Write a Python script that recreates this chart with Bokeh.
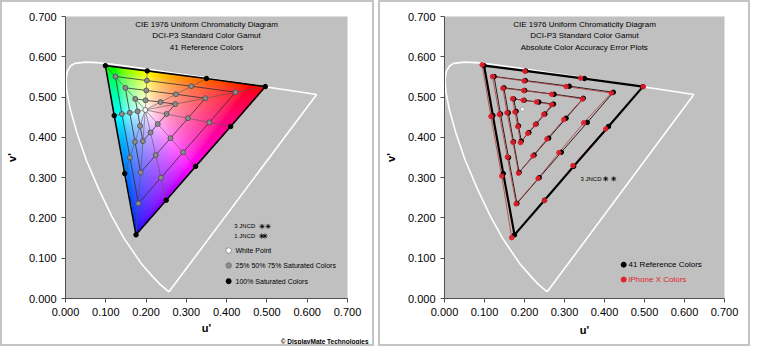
import numpy as np
from bokeh.plotting import figure
from bokeh.layouts import row
from bokeh.models import Label, Range1d, FixedTicker, PrintfTickFormatter, Title
from bokeh.embed import file_html
from bokeh.resources import INLINE

# ---------------- data ----------------
TICKS = [0.0, 0.1, 0.2, 0.3, 0.4, 0.5, 0.6, 0.7]

# spectral locus (horseshoe), closed by the line of purples
LOCUS_U = [0.2568, 0.2347, 0.2160, 0.1877, 0.1441, 0.1147, 0.0828, 0.0521, 0.0282, 0.0119,
           0.0035, 0.0014, 0.0046, 0.0123, 0.0231, 0.0501, 0.0792, 0.1127, 0.1531, 0.2026,
           0.2623, 0.3315, 0.4035, 0.5203, 0.5830, 0.6234, 0.2568]
LOCUS_V = [0.0166, 0.0350, 0.0549, 0.0871, 0.1510, 0.2044, 0.2708, 0.3427, 0.4117, 0.4698,
           0.5131, 0.5432, 0.5638, 0.5770, 0.5837, 0.5868, 0.5856, 0.5821, 0.5766, 0.5694,
           0.5604, 0.5501, 0.5393, 0.5219, 0.5125, 0.5065, 0.0166]

WHITE_U, WHITE_V = 0.198, 0.468
IPHONE_WHITE_U, IPHONE_WHITE_V = 0.195, 0.470

# 41 reference colours: white + 4 rings of 10
REF_100_U = [0.099, 0.203, 0.350, 0.496, 0.410, 0.323, 0.250, 0.175, 0.147, 0.121]
REF_100_V = [0.578, 0.565, 0.546, 0.526, 0.427, 0.328, 0.244, 0.158, 0.310, 0.454]
REF_75_U = [0.124, 0.202, 0.312, 0.422, 0.357, 0.292, 0.237, 0.181, 0.160, 0.140]
REF_75_V = [0.551, 0.541, 0.527, 0.512, 0.437, 0.363, 0.300, 0.236, 0.350, 0.458]
REF_50_U = [0.1485, 0.2005, 0.274, 0.347, 0.304, 0.2605, 0.224, 0.1865, 0.1725, 0.1595]
REF_50_V = [0.523, 0.5165, 0.507, 0.497, 0.4475, 0.398, 0.356, 0.313, 0.389, 0.461]
REF_25_U = [0.173, 0.199, 0.236, 0.2725, 0.251, 0.229, 0.211, 0.192, 0.185, 0.179]
REF_25_V = [0.4955, 0.492, 0.4875, 0.4825, 0.458, 0.433, 0.412, 0.3905, 0.4285, 0.4645]

# iPhone X measured colours
IPX_100_U = [0.094, 0.201, 0.340, 0.497, 0.403, 0.321, 0.250, 0.168, 0.143, 0.116]
IPX_100_V = [0.580, 0.564, 0.547, 0.526, 0.421, 0.330, 0.243, 0.151, 0.304, 0.452]
IPX_75_U = [0.120, 0.199, 0.304, 0.417, 0.348, 0.286, 0.234, 0.179, 0.157, 0.137]
IPX_75_V = [0.551, 0.540, 0.526, 0.510, 0.436, 0.362, 0.298, 0.235, 0.351, 0.457]
IPX_50_U = [0.146, 0.198, 0.268, 0.345, 0.298, 0.256, 0.221, 0.185, 0.171, 0.156]
IPX_50_V = [0.522, 0.516, 0.507, 0.495, 0.444, 0.396, 0.354, 0.311, 0.388, 0.461]
IPX_25_U = [0.170, 0.197, 0.230, 0.268, 0.248, 0.227, 0.208, 0.190, 0.183, 0.176]
IPX_25_V = [0.496, 0.492, 0.488, 0.481, 0.457, 0.432, 0.410, 0.387, 0.427, 0.463]

FONT = "Liberation Sans"
BG = "#c0c0c0"


def closed(a):
    return list(a) + [a[0]]


def base_fig(w, h, left, right, top, bottom):
    p = figure(width=w, height=h, x_range=Range1d(0, 0.7), y_range=Range1d(0, 0.7),
               output_backend="svg", toolbar_location=None,
               min_border_left=left, min_border_right=right,
               min_border_top=top, min_border_bottom=bottom)
    p.background_fill_color = BG
    p.border_fill_color = "white"
    p.outline_line_color = None
    p.grid.visible = False
    for ax in (p.xaxis, p.yaxis):
        ax.ticker = FixedTicker(ticks=TICKS)
        ax.formatter = PrintfTickFormatter(format="%.3f")
        ax.minor_tick_line_color = None
        ax.major_tick_in = 0
        ax.major_tick_out = 4
        ax.axis_line_color = "#505050"
        ax.major_tick_line_color = "#505050"
        ax.major_label_text_font = FONT
        ax.major_label_text_font_size = "11px"
        ax.major_label_text_color = "black"
        ax.axis_label_text_font = FONT
        ax.axis_label_text_font_size = "11px"
        ax.axis_label_text_font_style = "bold"
        ax.axis_label_text_color = "black"
    p.xaxis.axis_label = "u'"
    p.yaxis.axis_label = "v'"
    p.yaxis.axis_label_standoff = 8
    p.styles = {"border": "2px solid #c4c4c4"}
    p.line(LOCUS_U, LOCUS_V, line_color="white", line_width=1.6)
    return p


def add_title(p, lines):
    for t, v in zip(lines, [0.679, 0.652, 0.624]):
        p.add_layout(Label(x=0.35, y=v, text=t, text_align="center", text_baseline="middle",
                           text_font=FONT, text_font_size="8px", text_color="black"))


def label(p, x, y, t, size="7px", color="black", style="normal", align="left"):
    p.add_layout(Label(x=x, y=y, text=t, text_align=align, text_baseline="middle",
                       text_font=FONT, text_font_size=size, text_color=color,
                       text_font_style=style))


# ---------------- left panel ----------------
p1 = base_fig(374, 346, 61, 29, 14, 50)
add_title(p1, ["CIE 1976 Uniform Chromaticity Diagram", "DCI-P3 Standard Color Gamut",
               "41 Reference Colors"])

# chromaticity colour fill of the gamut triangle
gu = [REF_100_U[0], REF_100_U[3], REF_100_U[7]]
gv = [REF_100_V[0], REF_100_V[3], REF_100_V[7]]
u0, u1, v0, v1 = min(gu), max(gu), min(gv), max(gv)
nx, ny = 420, 450
U, V = np.meshgrid(np.linspace(u0, u1, nx), np.linspace(v0, v1, ny))
d = 6 * U - 16 * V + 12
cx = 9 * U / d
cy = 4 * V / d
X = cx / cy
Z = (1 - cx - cy) / cy
R = 3.2406 * X - 1.5372 - 0.4986 * Z
G = -0.9689 * X + 1.8758 + 0.0415 * Z
B = 0.0557 * X - 0.2040 + 1.0570 * Z
rgb = np.clip(np.stack([R, G, B], -1), 0, None)
rgb = rgb / rgb.max(axis=-1, keepdims=True)
rgb = rgb ** (1 / 2.0)


def side(ax, ay, bx, by, px, py):
    return (bx - ax) * (py - ay) - (by - ay) * (px - ax)


s1 = side(gu[0], gv[0], gu[1], gv[1], U, V)
s2 = side(gu[1], gv[1], gu[2], gv[2], U, V)
s3 = side(gu[2], gv[2], gu[0], gv[0], U, V)
inside = ((s1 <= 0) & (s2 <= 0) & (s3 <= 0)) | ((s1 >= 0) & (s2 >= 0) & (s3 >= 0))
img = np.zeros((ny, nx), dtype=np.uint32)
view = img.view(dtype=np.uint8).reshape((ny, nx, 4))
view[..., 0] = (rgb[..., 0] * 255).astype(np.uint8)
view[..., 1] = (rgb[..., 1] * 255).astype(np.uint8)
view[..., 2] = (rgb[..., 2] * 255).astype(np.uint8)
view[..., 3] = np.where(inside, 255, 0).astype(np.uint8)
p1.image_rgba(image=[img], x=u0, y=v0, dw=u1 - u0, dh=v1 - v0)

# spokes from white point
p1.segment(x0=[WHITE_U] * 10, y0=[WHITE_V] * 10, x1=REF_100_U, y1=REF_100_V,
           line_color="#555555", line_width=0.6)
for uu, vv in [(REF_75_U, REF_75_V), (REF_50_U, REF_50_V), (REF_25_U, REF_25_V)]:
    p1.line(closed(uu), closed(vv), line_color="#303030", line_width=0.8)
p1.line(closed(REF_100_U), closed(REF_100_V), line_color="black", line_width=1.6)
for uu, vv in [(REF_75_U, REF_75_V), (REF_50_U, REF_50_V), (REF_25_U, REF_25_V)]:
    p1.scatter(uu, vv, size=5, fill_color="#8c8c8c", line_color="#404040", line_width=0.7)
p1.scatter(REF_100_U, REF_100_V, size=4.5, fill_color="black", line_color="black")
p1.scatter([WHITE_U], [WHITE_V], size=5, fill_color="white", line_color="#404040", line_width=0.7)

# legend (left)
label(p1, 0.419, 0.179, "3 JNCD", size="6px")
p1.scatter([0.488, 0.503], [0.179, 0.179], marker="asterisk", size=5, line_color="black", line_width=0.8)
label(p1, 0.419, 0.155, "1 JNCD", size="6px")
p1.scatter([0.487, 0.495], [0.155, 0.155], marker="asterisk", size=5, line_color="black", line_width=0.8)
p1.scatter([0.405], [0.119], size=5.5, fill_color="white", line_color="#606060", line_width=0.6)
label(p1, 0.422, 0.119, "White Point")
p1.scatter([0.405], [0.082], size=5.5, fill_color="#8c8c8c", line_color="#606060", line_width=0.6)
label(p1, 0.422, 0.082, "25% 50% 75% Saturated Colors")
p1.scatter([0.405], [0.043], size=5, fill_color="black", line_color="black")
label(p1, 0.422, 0.043, "100% Saturated Colors")

# copyright line under the x-axis title
p1.xaxis.axis_label_standoff = 3
p1.add_layout(Title(text="\u00a9 DisplayMate Technologies", align="right", text_font=FONT,
                    text_font_size="6.5px", text_font_style="bold", text_color="black",
                    vertical_align="middle", standoff=0, offset=-21), "below")

# ---------------- right panel ----------------
p2 = base_fig(372, 346, 64, 28, 14, 50)
add_title(p2, ["CIE 1976 Uniform Chromaticity Diagram", "DCI-P3 Standard Color Gamut",
               "Absolute Color Accuracy Error Plots"])
RED = "#e0202a"
for uu, vv in [(REF_75_U, REF_75_V), (REF_50_U, REF_50_V), (REF_25_U, REF_25_V)]:
    p2.line(closed(uu), closed(vv), line_color="#202020", line_width=1.0)
for uu, vv in [(IPX_75_U, IPX_75_V), (IPX_50_U, IPX_50_V), (IPX_25_U, IPX_25_V), (IPX_100_U, IPX_100_V)]:
    p2.line(closed(uu), closed(vv), line_color="#b83a3a", line_width=0.8)
p2.line(closed(REF_100_U), closed(REF_100_V), line_color="black", line_width=2.2)
for uu, vv in [(REF_100_U, REF_100_V), (REF_75_U, REF_75_V), (REF_50_U, REF_50_V), (REF_25_U, REF_25_V)]:
    p2.scatter(uu, vv, size=4.5, fill_color="black", line_color="black")
for uu, vv in [(IPX_100_U, IPX_100_V), (IPX_75_U, IPX_75_V), (IPX_50_U, IPX_50_V), (IPX_25_U, IPX_25_V)]:
    p2.scatter(uu, vv, size=4.5, fill_color=RED, line_color=RED, fill_alpha=0.9)
p2.scatter([IPHONE_WHITE_U], [IPHONE_WHITE_V], size=4, fill_color="white", line_color="#808080", line_width=0.5)

label(p2, 0.340, 0.297, "3 JNCD", size="6px")
p2.scatter([0.403, 0.423], [0.297, 0.297], marker="asterisk", size=5, line_color="black", line_width=0.8)
p2.scatter([0.448], [0.084], size=5, fill_color="black", line_color="black")
label(p2, 0.460, 0.084, "41 Reference Colors", size="8px")
p2.scatter([0.448], [0.047], size=5, fill_color=RED, line_color=RED)
label(p2, 0.460, 0.047, "iPhone X Colors", size="8px", color=RED)

layout = row(p1, p2, spacing=4)
open("out.html", "w").write(file_html(layout, INLINE))
